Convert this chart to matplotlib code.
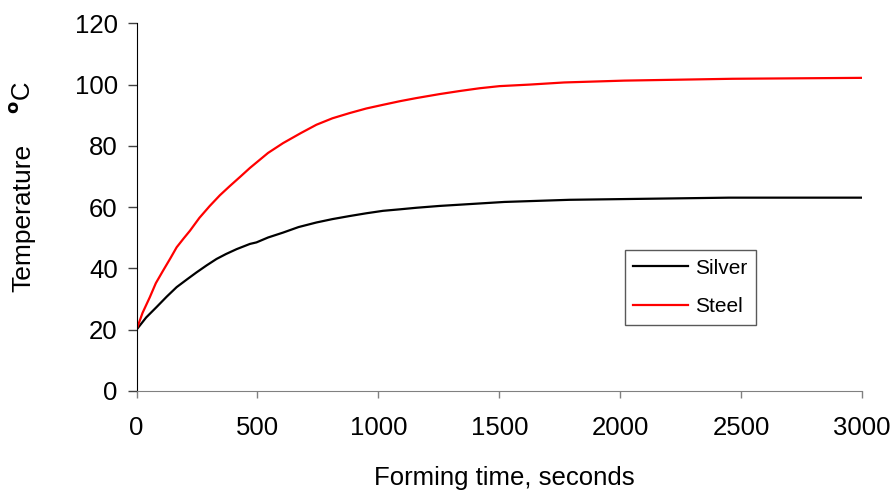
import matplotlib.pyplot as plt

plt.rcParams["font.family"] = ["Liberation Sans", "DejaVu Sans"]

# forming time (s) and temperatures (deg C)
silver_t = [0, 40, 83, 125, 166, 210, 248, 290, 331, 370, 414, 469, 496, 544, 606,
            670, 744, 810, 881, 950, 1019, 1090, 1157, 1253, 1356, 1521, 1790, 2450, 3000]
silver_temp = [20, 24.0, 27.4, 30.8, 33.9, 36.5, 38.7, 41.0, 43.1, 44.7, 46.3, 48.0, 48.5,
               50.1, 51.7, 53.5, 55.0, 56.1, 57.1, 58.0, 58.8, 59.3, 59.8, 60.4, 60.9,
               61.7, 62.4, 63.1, 63.1]

steel_t = [0, 25, 55, 80, 110, 140, 166, 195, 221, 260, 303, 345, 386, 430, 469, 544,
           606, 680, 744, 810, 881, 950, 1019, 1090, 1157, 1253, 1336, 1418, 1501, 1625,
           1769, 2017, 2464, 3000]
steel_temp = [20, 25.5, 30.6, 35.2, 39.3, 43.3, 46.9, 49.8, 52.3, 56.5, 60.4, 63.9, 66.9,
              70.0, 72.8, 77.7, 80.9, 84.2, 86.9, 89.0, 90.7, 92.2, 93.4, 94.6, 95.6,
              96.9, 97.9, 98.8, 99.5, 100.0, 100.7, 101.3, 101.9, 102.2]

fig = plt.figure(figsize=(8.91, 4.93), dpi=100)
ax = fig.add_axes([0.1532, 0.2069, 0.8143, 0.7458])

ax.plot(silver_t, silver_temp, color="black", lw=1.6, label="Silver")
ax.plot(steel_t, steel_temp, color="red", lw=1.6, label="Steel")

ax.set_xlim(0, 3000)
ax.set_ylim(0, 120)
ax.set_xticks(range(0, 3001, 500))
ax.set_yticks(range(0, 121, 20))

ax.spines["top"].set_visible(False)
ax.spines["right"].set_visible(False)
ax.spines["left"].set_color("black")
ax.spines["bottom"].set_color("#808080")
ax.tick_params(axis="y", length=6.5, width=1, color="#404040", pad=7, labelsize=18.5)
ax.tick_params(axis="x", length=5, width=1, color="#808080", pad=13, labelsize=18.5)

fig.text(504 / 891, 1 - 478 / 493, "Forming time, seconds", fontsize=18.5,
         ha="center", va="center")
fig.text(23 / 891, 1 - 217.5 / 493, "Temperature", fontsize=19, rotation=90,
         ha="center", va="center")
fig.text(23 / 891, 1 - 98 / 493, "$^{\\mathbf{o}}$C", fontsize=18.5, rotation=90,
         ha="center", va="center")

leg = ax.legend(loc="center", bbox_to_anchor=(0.7636, 0.2815), fontsize=15,
                frameon=True, fancybox=False, edgecolor="#303030",
                handlelength=2.64, handletextpad=0.34, borderpad=0.4,
                labelspacing=0.95)
leg.get_frame().set_linewidth(1)

fig.savefig("out.png", dpi=100)
